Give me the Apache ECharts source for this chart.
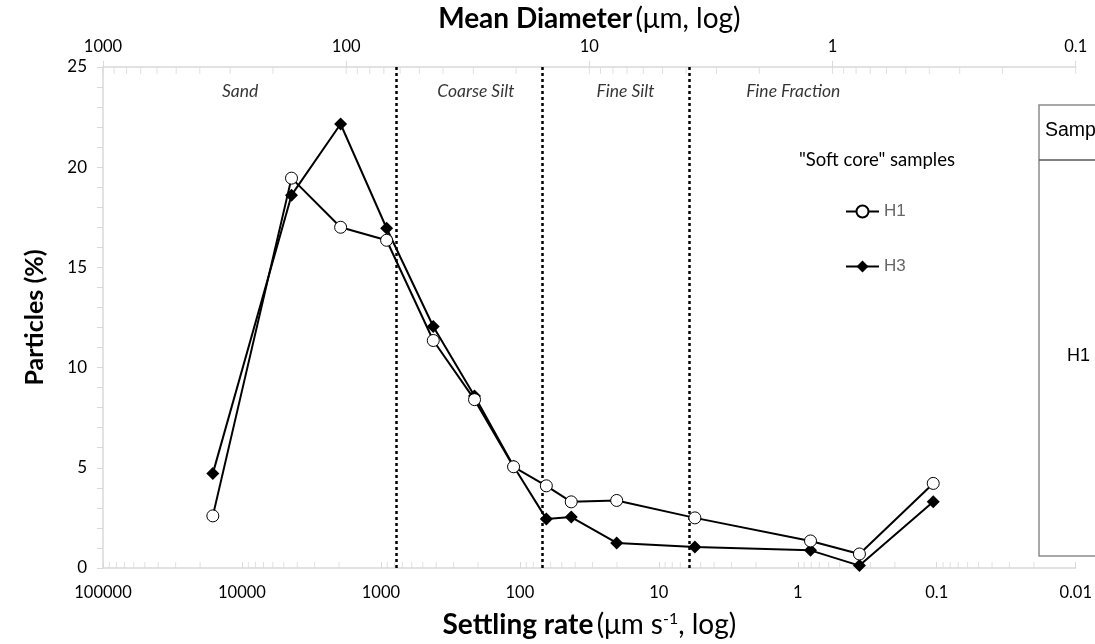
<!DOCTYPE html>
<html>
<head>
<meta charset="utf-8">
<script src="https://cdn.jsdelivr.net/npm/echarts@6/dist/echarts.min.js"></script>
<style>
  html, body { margin: 0; padding: 0; background: #fff; }
  #chart { width: 1095px; height: 644px; }
</style>
</head>
<body>
<div id="chart"></div>
<script>
// 沉降速率 (μm s-1) — 两个样品共用
const settlingRate = [16200, 4400, 1950, 910, 420, 212, 111, 64.5, 42.7, 20.1, 5.5, 0.81, 0.36, 0.106];
// 颗粒百分比
const h1 = [2.6, 19.45, 17.0, 16.35, 11.35, 8.4, 5.05, 4.1, 3.3, 3.37, 2.5, 1.35, 0.7, 4.22];
const h3 = [4.72, 18.6, 22.15, 16.95, 12.05, 8.58, 5.08, 2.45, 2.54, 1.25, 1.05, 0.88, 0.12, 3.3];

// 粒径分界 (μm, 上轴)
const zoneBounds = [62.5, 15.6, 3.9];
const zoneNames = ['Sand', 'Coarse Silt', 'Fine Silt', 'Fine Fraction'];
const zoneLabelAt = [273, 29.3, 7.1, 1.45];
const zoneLabelY = 23.8;

const FONT = 'Lato, "Noto Sans", sans-serif';
const ARIAL = '"Liberation Sans", Arial, sans-serif';
const AXIS_GREY = '#d9d9d9';

// 对数轴的次刻度 2..9 × 10^k
function logTicks(kFrom, kTo, withMajor) {
  let out = [];
  for (let k = kFrom; k <= kTo; k++) {
    for (let m = withMajor ? 1 : 2; m <= 9; m++) out.push(m * Math.pow(10, k));
  }
  if (withMajor) out.push(Math.pow(10, kTo + 1));
  return out;
}
const fmtLog = v => String(+(+v).toPrecision(6));

let chart = echarts.init(document.getElementById('chart'));

let option = {
  animation: false,
  grid: { left: 103, right: 12, top: 65, bottom: 75 },
  xAxis: [
    {
      type: 'log', logBase: 10, position: 'bottom', inverse: true,
      min: 0.01, max: 100000, interval: 1,
      name: '{b|Settling rate} {n|(μm s}{s|-1}{n|, log)}',
      nameLocation: 'middle', nameGap: 43,
      nameTextStyle: {
        rich: {
          b: { fontFamily: FONT, fontSize: 28, fontWeight: 'bold', color: '#000' },
          n: { fontFamily: FONT, fontSize: 28, color: '#000' },
          s: { fontFamily: FONT, fontSize: 16, color: '#000', verticalAlign: 'top' }
        }
      },
      axisLine: { lineStyle: { color: AXIS_GREY, width: 1.5 } },
      axisTick: { show: true, inside: true, length: 6, lineStyle: { color: AXIS_GREY } },
      axisLabel: { margin: 16, fontFamily: FONT, fontSize: 16.5, color: '#000', formatter: fmtLog },
      splitLine: { show: false }
    },
    {
      type: 'log', logBase: 10, position: 'top', inverse: true,
      min: 0.1, max: 1000, interval: 1,
      name: '{b|Mean Diameter} {n|(μm, log)}',
      nameLocation: 'middle', nameGap: 29,
      nameTextStyle: {
        rich: {
          b: { fontFamily: FONT, fontSize: 28, fontWeight: 'bold', color: '#000' },
          n: { fontFamily: FONT, fontSize: 28, color: '#000' }
        }
      },
      axisLine: { lineStyle: { color: AXIS_GREY, width: 1.5 } },
      axisTick: { show: true, inside: false, length: 6, lineStyle: { color: AXIS_GREY } },
      axisLabel: { margin: 12, fontFamily: FONT, fontSize: 16.5, color: '#000', formatter: fmtLog },
      splitLine: { show: false }
    }
  ],
  yAxis: {
    type: 'value', min: 0, max: 25, interval: 5,
    name: 'Particles (%)', nameLocation: 'middle', nameGap: 56,
    nameTextStyle: { fontFamily: FONT, fontSize: 25, fontWeight: 'bold', color: '#000' },
    axisLine: { show: true, lineStyle: { color: AXIS_GREY, width: 1.5 } },
    axisTick: { show: true, inside: false, length: 6, lineStyle: { color: AXIS_GREY } },
    minorTick: { show: true, splitNumber: 5, length: 6, lineStyle: { color: AXIS_GREY } },
    axisLabel: { margin: 16, fontFamily: FONT, fontSize: 17, color: '#000' },
    splitLine: { show: false }
  },
  legend: {
    orient: 'vertical', left: 840, top: 198, itemGap: 38,
    itemWidth: 33, itemHeight: 15,
    textStyle: { fontFamily: ARIAL, fontSize: 17, color: '#666' },
    data: ['H1', 'H3']
  },
  graphic: [
    { type: 'text', x: 877, y: 160,
      style: { text: '"Soft core" samples', font: '18.5px ' + FONT, fill: '#000', align: 'center', verticalAlign: 'middle' } },
    // 右侧被截断的表格
    { type: 'rect', shape: { x: 1039, y: 105, width: 120, height: 451 },
      style: { fill: '#fff', stroke: '#8c8c8c', lineWidth: 1.5 }, z: 50 },
    { type: 'line', shape: { x1: 1039, y1: 160, x2: 1095, y2: 160 },
      style: { stroke: '#595959', lineWidth: 1.5 }, z: 51 },
    { type: 'text', x: 1045, y: 131, z: 51,
      style: { text: 'Sample', font: '19.5px ' + ARIAL, fill: '#000', verticalAlign: 'middle' } },
    { type: 'text', x: 1067, y: 356, z: 51,
      style: { text: 'H1', font: '18px ' + ARIAL, fill: '#000', verticalAlign: 'middle' } }
  ],
  series: [
    // 次刻度（下轴，向上）
    {
      type: 'scatter', silent: true, xAxisIndex: 0, z: 1,
      symbol: 'rect', symbolSize: [1, 6], symbolOffset: [0, -3],
      itemStyle: { color: AXIS_GREY },
      data: logTicks(-2, 4, false).map(v => [v, 0])
    },
    // 次刻度（上轴，向下）
    {
      type: 'scatter', silent: true, xAxisIndex: 1, z: 1,
      symbol: 'rect', symbolSize: [1, 7], symbolOffset: [0, 3.5],
      itemStyle: { color: AXIS_GREY },
      data: logTicks(-1, 2, true).map(v => [v, 25])
    },
    // 分区标签与分界线
    {
      type: 'scatter', silent: true, xAxisIndex: 1, symbolSize: 0,
      label: {
        show: true, position: 'inside', formatter: p => p.data[2],
        fontFamily: FONT, fontStyle: 'italic', fontSize: 17.5, color: '#000'
      },
      data: zoneNames.map((n, i) => [zoneLabelAt[i], zoneLabelY, n]),
      markLine: {
        silent: true, symbol: ['none', 'none'], label: { show: false },
        lineStyle: { color: '#000', type: [3, 3], width: 2.5 },
        data: zoneBounds.map(v => ({ xAxis: v }))
      }
    },
    {
      name: 'H1', type: 'line', xAxisIndex: 0, z: 5,
      symbol: 'circle', symbolSize: 12,
      lineStyle: { color: '#000', width: 2 },
      itemStyle: { color: '#fff', borderColor: '#000', borderWidth: 1 },
      data: settlingRate.map((v, i) => [v, h1[i]])
    },
    {
      name: 'H3', type: 'line', xAxisIndex: 0, z: 4,
      symbol: 'diamond', symbolSize: 13,
      lineStyle: { color: '#000', width: 2 },
      itemStyle: { color: '#000' },
      data: settlingRate.map((v, i) => [v, h3[i]])
    }
  ]
};

chart.setOption(option);
window.onresize = () => { chart.resize(); };
</script>
</body>
</html>
